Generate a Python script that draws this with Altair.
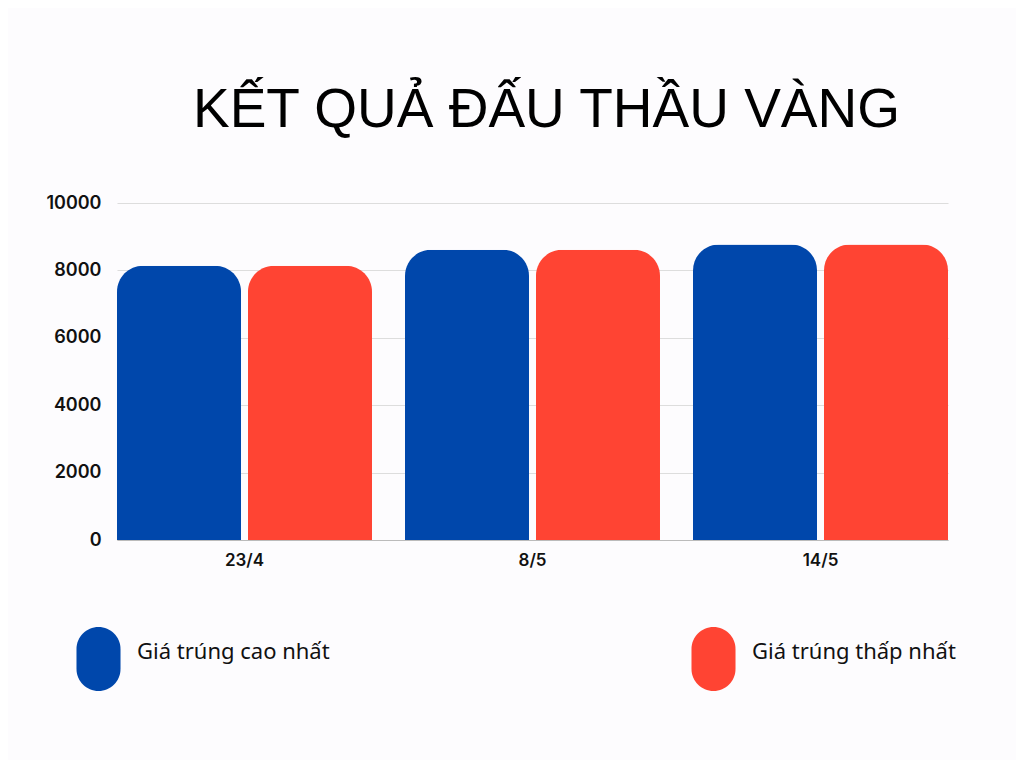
import altair as alt
import pandas as pd

dates = ["23/4", "8/5", "14/5"]
series = ["Giá trúng cao nhất", "Giá trúng thấp nhất"]
high_values = [8135, 8610, 8770]
low_values = [8135, 8610, 8770]
colors = ["#0047AB", "#FF4433"]

rows = []
for d, h, l in zip(dates, high_values, low_values):
    rows.append({"date": d, "series": series[0], "value": h})
    rows.append({"date": d, "series": series[1], "value": l})
df = pd.DataFrame(rows)

# pill-shaped legend symbol, shifted right inside its box so the label sits close
pill = ("M 0.0545 -0.156 A 0.344 0.344 0 0 1 0.7425 -0.156 "
        "L 0.7425 0.156 A 0.344 0.344 0 0 1 0.0545 0.156 Z")

chart = alt.Chart(df).mark_bar(
    cornerRadiusTopLeft=26, cornerRadiusTopRight=26
).encode(
    x=alt.X("date:N", sort=dates, title=None,
            scale=alt.Scale(paddingInner=0.1146, paddingOuter=0),
            axis=alt.Axis(labelAngle=0, labelFont="Inter", labelFontSize=17,
                          labelFontWeight=600, labelColor="#111111", ticks=False,
                          domainColor="#BBBBBB", labelPadding=12)),
    xOffset=alt.XOffset("series:N", sort=series,
                        scale=alt.Scale(paddingInner=0.053, paddingOuter=0)),
    y=alt.Y("value:Q", title=None,
            scale=alt.Scale(domain=[0, 10000]),
            axis=alt.Axis(values=[0, 2000, 4000, 6000, 8000, 10000], format="d",
                          labelFont="Inter", labelFontSize=18, labelFontWeight=600,
                          labelColor="#111111", ticks=False, domain=False,
                          gridColor="#DDDDDD", labelPadding=16)),
    color=alt.Color("series:N", sort=series,
                    scale=alt.Scale(domain=series, range=colors),
                    legend=alt.Legend(title=None, orient="none", direction="horizontal",
                                      legendX=-108, legendY=392,
                                      symbolType=pill, symbolSize=16384,
                                      symbolStrokeWidth=0, symbolOpacity=1,
                                      labelFont="Noto Sans", labelFontSize=22,
                                      labelColor="#111111", labelOffset=0,
                                      labelBaseline="alphabetic",
                                      labelLimit=400, columnPadding=294)),
).properties(
    width=831, height=337,
    title=alt.Title("KẾT QUẢ ĐẤU THẦU VÀNG", font="Liberation Sans",
                    fontSize=55, fontWeight="normal", color="#000000",
                    anchor="middle", dx=14, offset=55),
    autosize=alt.AutoSizeParams(type="none"),
    padding={"left": 109, "top": 195, "right": 68, "bottom": 220},
    background="#FDFCFE",
).configure_view(stroke=None)

chart.save("out.html", embed_options={"renderer": "svg", "actions": False})
